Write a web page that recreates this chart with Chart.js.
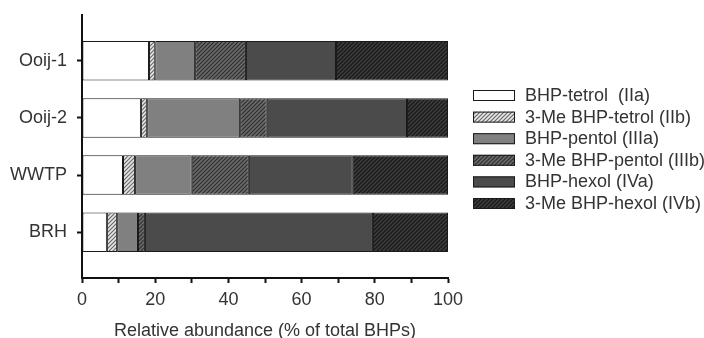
<!DOCTYPE html>
<html>
<head>
<meta charset="utf-8">
<script src="https://cdn.jsdelivr.net/npm/chart.js@4"></script>
<style>
  html, body { margin: 0; padding: 0; background: #fff; }
  #wrap { width: 704px; height: 338px; }
</style>
</head>
<body>
<div id="wrap"><canvas id="bhpChart" width="704" height="338"></canvas></div>
<script>
// sample sites (top to bottom)
const sites = ['Ooij-1', 'Ooij-2', 'WWTP', 'BRH'];

// BHP composition, % of total BHPs
const tetrol   = [18.3, 16.1, 11.2, 6.8];   // IIa
const meTetrol = [1.7, 1.7, 3.3, 2.8];      // IIb
const pentol   = [10.9, 25.4, 15.5, 5.7];   // IIIa
const mePentol = [13.9, 7.3, 15.6, 1.9];    // IIIb
const hexol    = [24.6, 38.3, 28.4, 62.3];  // IVa
const meHexol  = [30.6, 11.2, 26.0, 20.5];  // IVb

const seriesNames = [
  'BHP-tetrol  (IIa)',
  '3-Me BHP-tetrol (IIb)',
  'BHP-pentol (IIIa)',
  '3-Me BHP-pentol (IIIb)',
  'BHP-hexol (IVa)',
  '3-Me BHP-hexol (IVb)'
];

const xTicks = [0, 20, 40, 60, 80, 100];

// diagonal hatch pattern
function hatch(bg, line) {
  const c = document.createElement('canvas');
  c.width = 4; c.height = 4;
  const g = c.getContext('2d');
  g.fillStyle = bg;
  g.fillRect(0, 0, 4, 4);
  g.strokeStyle = line;
  g.lineWidth = 1.2;
  g.beginPath();
  g.moveTo(0, 4); g.lineTo(4, 0);
  g.moveTo(-1, 1); g.lineTo(1, -1);
  g.moveTo(3, 5); g.lineTo(5, 3);
  g.stroke();
  return g.createPattern(c, 'repeat');
}

const fills = [
  '#ffffff',
  hatch('#e6e6e6', '#6a6a6a'),
  '#808080',
  hatch('#6a6a6a', '#2e2e2e'),
  '#4b4b4b',
  hatch('#3c3c3c', '#161616')
];

const allValues = [tetrol, meTetrol, pentol, mePentol, hexol, meHexol];

const datasets = allValues.map((vals, k) => ({
  label: seriesNames[k],
  data: vals.map((v, i) => ({ x: v, y: i + 1 })),
  backgroundColor: fills[k],
  borderColor: '#1a1a1a',
  borderWidth: 1,
  borderSkipped: false,
  barPercentage: 0.69,
  categoryPercentage: 1
}));

const textColor = '#333';
const font = { family: '"Liberation Sans", Arial, sans-serif', size: 18 };

// legend drawn by hand, the built-in one is capped in width
const sideLegend = {
  id: 'sideLegend',
  afterDraw(chart) {
    const ctx = chart.ctx;
    const x0 = 473, y0 = 90, rowH = 21.6;
    ctx.save();
    ctx.font = font.size + 'px ' + font.family;
    ctx.textBaseline = 'middle';
    ctx.textAlign = 'left';
    chart.data.datasets.forEach((ds, i) => {
      const y = y0 + i * rowH;
      ctx.fillStyle = ds.backgroundColor;
      ctx.fillRect(x0, y, 42, 11);
      ctx.strokeStyle = '#1a1a1a';
      ctx.lineWidth = 1;
      ctx.strokeRect(x0 + 0.5, y + 0.5, 41, 10);
      ctx.fillStyle = textColor;
      ctx.fillText(ds.label, x0 + 52, y + 6);
    });
    ctx.restore();
  }
};

new Chart(document.getElementById('bhpChart').getContext('2d'), {
  type: 'bar',
  data: { datasets: datasets },
  plugins: [sideLegend],
  options: {
    indexAxis: 'y',
    responsive: false,
    animation: false,
    layout: { padding: { top: 15, right: 256, left: 0, bottom: 0 } },
    plugins: {
      tooltip: { enabled: false },
      legend: { display: false }
    },
    scales: {
      x: {
        type: 'linear',
        stacked: true,
        min: 0,
        max: 100,
        afterFit: (s) => { s.height = 60; },
        afterBuildTicks: (s) => {
          s.ticks = [];
          for (let v = 0; v <= 100; v += 10) s.ticks.push({ value: v });
        },
        ticks: {
          font: font,
          color: textColor,
          padding: 6,
          maxRotation: 0,
          autoSkip: false,
          callback: (v) => xTicks.includes(v) ? String(v) : ''
        },
        grid: {
          drawOnChartArea: false,
          drawTicks: true,
          tickLength: 5,
          tickColor: '#111',
          tickWidth: 2
        },
        border: { display: true, color: '#111', width: 2 },
        title: {
          display: true,
          text: 'Relative abundance (% of total BHPs)',
          font: font,
          color: textColor,
          padding: { top: 8, bottom: -4 }
        }
      },
      y: {
        type: 'linear',
        stacked: true,
        reverse: true,
        offset: false,
        min: 0.2,
        max: 4.8,
        afterFit: (s) => {
          s.width = 82;
          s.paddingTop = 0;
          s.paddingBottom = 0;
        },
        afterBuildTicks: (s) => {
          s.ticks = sites.map((_, i) => ({ value: i + 1 }));
        },
        ticks: {
          font: font,
          color: textColor,
          padding: 10,
          autoSkip: false,
          callback: (v) => sites[v - 1] || ''
        },
        grid: {
          offset: false,
          drawOnChartArea: false,
          drawTicks: true,
          tickLength: 5,
          tickColor: '#111',
          tickWidth: 2
        },
        border: { display: true, color: '#111', width: 2 }
      }
    }
  }
});
</script>
</body>
</html>
